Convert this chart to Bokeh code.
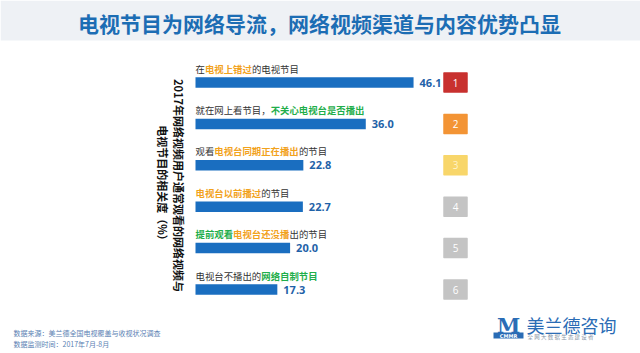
import math
from bokeh.plotting import figure
from bokeh.models import Range1d, ColumnDataSource, Label
from bokeh.core.properties import value
from bokeh.embed import file_html
from bokeh.resources import INLINE

# ---- data ----
values = [46.1, 36.0, 22.8, 22.7, 20.0, 17.3]
ranks = ["1", "2", "3", "4", "5", "6"]
rank_colors = ["#c8312f", "#f39435", "#f8d66a", "#c4c4c4", "#c4c4c4", "#c4c4c4"]
rank_text_colors = ["#ffffff", "#ffffff", "#fff3c8", "#ffffff", "#ffffff", "#ffffff"]
# category labels, as coloured segments (text, colour key)
label_segments = [
    [("在", "k"), ("电视上错过", "o"), ("的电视节目", "k")],
    [("就在网上看节目，", "k"), ("不关心电视台是否播出", "g")],
    [("观看", "k"), ("电视台同期正在播出", "o"), ("的节目", "k")],
    [("电视台以前播过", "o"), ("的节目", "k")],
    [("提前观看", "g"), ("电视台还没播", "o"), ("出的节目", "k")],
    [("电视台不播出的", "k"), ("网络自制节目", "g")],
]
title_text = "电视节目为网络导流，网络视频渠道与内容优势凸显"
axis_title_1 = "2017年网络视频用户通常观看的网络视频与"
axis_title_2 = "电视节目的相关度（%）"
source_1 = "数据来源：美兰德全国电视覆盖与收视状况调查"
source_2 = "数据监测时间：2017年7月-8月"

# ---- layout constants ----
W, H = 640, 353
X0 = 195.0           # pixel of value 0
PX_PER_UNIT = 4.73   # pixels per percent
Y0 = 82.0            # pixel of first bar centre
ROW = 41.4           # pixels between bars
FONT = "Noto Sans CJK SC"
BAR_COLOR = "#1a6ec0"
seg_colors = {"k": "#333333", "o": "#f2a21c", "g": "#1fae4b"}

p = figure(width=W, height=H, output_backend="svg", toolbar_location=None,
           x_range=Range1d(-X0 / PX_PER_UNIT, (W - X0) / PX_PER_UNIT),
           y_range=Range1d((H - Y0) / ROW, -Y0 / ROW),
           min_border=0, x_axis_location=None, y_axis_location=None)
p.grid.visible = False
p.outline_line_color = None
p.background_fill_color = "#ffffff"
p.border_fill_color = "#ffffff"

n = len(values)
idx = list(range(n))

# soft background band (light grey top area)
p.rect(x=[(W / 2 - X0) / PX_PER_UNIT], y=[(-Y0 + 20) / ROW], width=W, height=40,
       width_units="screen", height_units="screen", fill_color="#eef1f5",
       line_color=None)

# bars
bar_src = ColumnDataSource(dict(y=idx, right=values,
                                lab=[f"{v:.1f}" for v in values]))
p.hbar(y="y", left=0, right="right", height=10.5 / ROW, source=bar_src,
       fill_color=BAR_COLOR, line_color=None)

# value labels
p.text(x="right", y="y", text="lab", source=bar_src, x_offset=6,
       text_font=value("Open Sans"), text_font_size="11px",
       text_font_style="bold", text_color="#1f62a8",
       text_baseline="middle", text_align="left")

# category labels (coloured segments)
LFS = 9.4
seg = dict(x=[], y=[], text=[], xo=[], color=[], style=[])
for i, segs in enumerate(label_segments):
    off = 0.0
    for t, c in segs:
        seg["x"].append(0)
        seg["y"].append(i)
        seg["text"].append(t)
        seg["xo"].append(off)
        seg["color"].append(seg_colors[c])
        seg["style"].append("normal" if c == "k" else "bold")
        off += len(t) * LFS
seg_src = ColumnDataSource(seg)
p.text(x="x", y="y", text="text", x_offset="xo", y_offset=-14,
       source=seg_src, text_color="color", text_font_style="style",
       text_font=value(FONT), text_font_size=f"{LFS}px",
       text_baseline="middle", text_align="left")

# rank badges
BADGE_X = (455 - X0) / PX_PER_UNIT
rank_src = ColumnDataSource(dict(x=[BADGE_X] * n, y=idx, r=ranks,
                                 fc=rank_colors, tc=rank_text_colors))
p.rect(x="x", y="y", width=23, height=19, width_units="screen",
       height_units="screen", source=rank_src, fill_color="fc",
       line_color="fc", line_width=1.5, line_join="round")
p.text(x="x", y="y", text="r", source=rank_src, text_color="tc",
       text_font=value("Open Sans"), text_font_size="10px",
       text_align="center", text_baseline="middle")

# title
p.add_layout(Label(x=319, y=H - 22, x_units="screen", y_units="screen",
                   text=title_text, text_font=FONT, text_font_size="21px",
                   text_font_style="bold", text_color="#1c6db4",
                   text_align="center", text_baseline="middle"))

# vertical axis title (two lines, reading top to bottom)
for xpx, txt in [(178, axis_title_1), (162, axis_title_2)]:
    p.add_layout(Label(x=xpx, y=H - 185, x_units="screen", y_units="screen",
                       text=txt, angle=-math.pi / 2, text_font=FONT,
                       text_font_size="11px", text_font_style="bold",
                       text_color="#111111", text_align="center",
                       text_baseline="middle"))

# footer source notes
for ypx, txt in [(332, source_1), (343, source_2)]:
    p.add_layout(Label(x=13, y=H - ypx, x_units="screen", y_units="screen",
                       text=txt, text_font=FONT, text_font_size="7px",
                       text_color="#5a7fb3", text_align="left",
                       text_baseline="middle"))

# logo
p.add_layout(Label(x=508, y=H - 325, x_units="screen", y_units="screen",
                   text="M", text_font="DejaVu Serif", text_font_size="21px",
                   text_font_style="bold", text_color="#2a6cb5",
                   text_align="center", text_baseline="middle"))
p.rect(x=[(508 - X0) / PX_PER_UNIT], y=[(335 - Y0) / ROW], width=30, height=6,
       width_units="screen", height_units="screen", fill_color="#2a6cb5",
       line_color=None)
p.add_layout(Label(x=508, y=H - 335, x_units="screen", y_units="screen",
                   text="CMMR", text_font="DejaVu Sans", text_font_size="5px",
                   text_font_style="bold", text_color="#ffffff",
                   text_align="center", text_baseline="middle"))
p.add_layout(Label(x=526, y=H - 324, x_units="screen", y_units="screen",
                   text="美兰德咨询", text_font=FONT, text_font_size="18px",
                   text_color="#2a6cb5", text_align="left",
                   text_baseline="middle"))
p.add_layout(Label(x=527, y=H - 336, x_units="screen", y_units="screen",
                   text="全 网 大 数 据 生 态 建 设 者", text_font=FONT,
                   text_font_size="5.5px", text_color="#8a97a8",
                   text_align="left", text_baseline="middle"))

open("out.html", "w").write(file_html(p, INLINE))
